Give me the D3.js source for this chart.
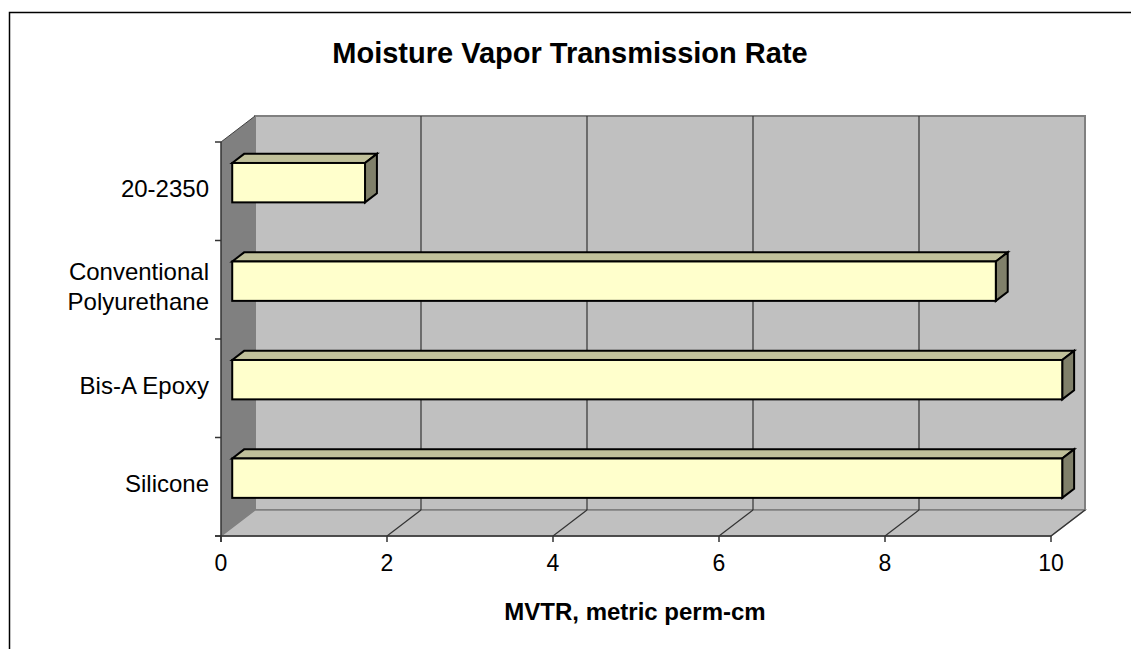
<!DOCTYPE html>
<html>
<head>
<meta charset="utf-8">
<script src="https://cdn.jsdelivr.net/npm/d3@7"></script>
<style>
	html, body { margin: 0; padding: 0; background: #fff; }
	svg { display: block; font-family: "Liberation Sans", Arial, sans-serif; }
</style>
</head>
<body>
<svg class="chart" width="1131" height="649"></svg>
<script>
// categories listed top to bottom as they appear on the chart
const categories = ['20-2350', 'Conventional Polyurethane', 'Bis-A Epoxy', 'Silicone'];
const categoryLines = [['20-2350'], ['Conventional', 'Polyurethane'], ['Bis-A Epoxy'], ['Silicone']];
const values = [1.6, 9.2, 10, 10];
const xTicks = [0, 2, 4, 6, 8, 10];
const chartTitle = 'Moisture Vapor Transmission Rate';
const xTitle = 'MVTR, metric perm-cm';

function startApp() {
	const svg = d3.select('.chart');
	// oblique depth of the 3D box
	const depth = {dx: 34, dy: 26};
	const barFront = 0.33;
	const barBack = 0.68;

	const xScale = d3.scaleLinear().domain([0, 10]).range([221, 1051]);
	const yScale = d3.scaleBand().domain(categories).range([142, 536]);
	const barHeight = yScale.bandwidth() * 0.4;
	const [x0, x1] = xScale.range();
	const [y0, y1] = yScale.range();

	// outer frame
	svg.append('path')
		.attr('d', `M9.5,649 L9.5,12.5 L1131,12.5`)
		.attr('fill', 'none')
		.attr('stroke', '#000')
		.attr('stroke-width', 1.5);

	svg.append('text')
		.attr('x', 570)
		.attr('y', 63)
		.attr('text-anchor', 'middle')
		.style('font-size', '29px')
		.style('font-weight', 'bold')
		.text(chartTitle);

	const line = (pts) => 'M' + pts.map(p => p.join(',')).join('L') + 'Z';

	// back wall
	svg.append('path')
		.attr('d', line([[x0 + depth.dx, y0 - depth.dy], [x1 + depth.dx, y0 - depth.dy], [x1 + depth.dx, y1 - depth.dy], [x0 + depth.dx, y1 - depth.dy]]))
		.attr('fill', '#c0c0c0')
		.attr('stroke', '#808080')
		.attr('stroke-width', 2);

	// floor
	svg.append('path')
		.attr('d', line([[x0, y1], [x0 + depth.dx, y1 - depth.dy], [x1 + depth.dx, y1 - depth.dy], [x1, y1]]))
		.attr('fill', '#c0c0c0')
		.attr('stroke', '#808080')
		.attr('stroke-width', 1.5);

	// left wall
	svg.append('path')
		.attr('d', line([[x0, y0], [x0 + depth.dx, y0 - depth.dy], [x0 + depth.dx, y1 - depth.dy], [x0, y1]]))
		.attr('fill', '#808080')
		.attr('stroke', 'none');
	svg.append('line')
		.attr('x1', x0).attr('y1', y0)
		.attr('x2', x0 + depth.dx).attr('y2', y0 - depth.dy)
		.attr('stroke', '#404040').attr('stroke-width', 1);

	// gridlines on back wall and floor
	const grid = svg.append('g')
		.attr('stroke', '#333')
		.attr('stroke-width', 1.2)
		.attr('fill', 'none');
	grid.selectAll('.vgrid')
		.data(xTicks.filter(t => t > 0 && t < 10))
		.enter()
		.append('line')
		.attr('x1', t => xScale(t) + depth.dx).attr('y1', y0 - depth.dy)
		.attr('x2', t => xScale(t) + depth.dx).attr('y2', y1 - depth.dy);
	grid.selectAll('.fgrid')
		.data(xTicks.filter(t => t > 0))
		.enter()
		.append('line')
		.attr('x1', t => xScale(t)).attr('y1', y1)
		.attr('x2', t => xScale(t) + depth.dx).attr('y2', y1 - depth.dy);

	// axes
	const axisColor = '#333';
	svg.append('line')
		.attr('x1', x0).attr('y1', y0).attr('x2', x0).attr('y2', y1 + 6)
		.attr('stroke', axisColor).attr('stroke-width', 1.5);
	svg.append('line')
		.attr('x1', x0 - 6).attr('y1', y1).attr('x2', x1).attr('y2', y1)
		.attr('stroke', axisColor).attr('stroke-width', 1.5);

	const yTickPositions = categories.map(c => yScale(c)).concat([y1]);
	svg.selectAll('.ytick')
		.data(yTickPositions)
		.enter()
		.append('line')
		.attr('x1', x0 - 6).attr('x2', x0)
		.attr('y1', d => d).attr('y2', d => d)
		.attr('stroke', axisColor).attr('stroke-width', 1.5);

	const xTick = svg.selectAll('.xtick')
		.data(xTicks)
		.enter()
		.append('g')
		.attr('transform', t => `translate(${xScale(t)}, ${y1})`);
	xTick.append('line')
		.attr('y1', 0).attr('y2', 6)
		.attr('stroke', axisColor).attr('stroke-width', 1.5);
	xTick.append('text')
		.attr('y', 35)
		.attr('text-anchor', 'middle')
		.style('font-size', '23px')
		.text(t => t);

	// category labels
	const label = svg.selectAll('.cat')
		.data(categories)
		.enter()
		.append('text')
		.attr('text-anchor', 'end')
		.style('font-size', '24px')
		.attr('x', 209);
	label.each(function(c, i) {
		const lines = categoryLines[i];
		const cy = yScale(c) + yScale.bandwidth() / 2 - 3;
		const lh = 30;
		d3.select(this).selectAll('tspan')
			.data(lines)
			.enter()
			.append('tspan')
			.attr('x', 209)
			.attr('y', (l, j) => cy + (j - (lines.length - 1) / 2) * lh + 8.5)
			.text(l => l);
	});

	// 3D bars
	const fx = depth.dx * barFront;
	const fy = depth.dy * barFront;
	const bx = depth.dx * (barBack - barFront);
	const by = depth.dy * (barBack - barFront);
	const bar = svg.selectAll('.bar')
		.data(categories.map((c, i) => ({c, v: values[i]})))
		.enter()
		.append('g')
		.attr('stroke', '#000')
		.attr('stroke-width', 2)
		.attr('stroke-linejoin', 'miter');
	bar.each(function(d) {
		const g = d3.select(this);
		const left = x0 + fx;
		const right = xScale(d.v) + fx;
		const top = yScale(d.c) + (yScale.bandwidth() - barHeight) / 2 - fy;
		const bottom = top + barHeight;
		g.append('path')
			.attr('d', line([[left, top], [left + bx, top - by], [right + bx, top - by], [right, top]]))
			.attr('fill', '#c0c09a');
		g.append('path')
			.attr('d', line([[right, top], [right + bx, top - by], [right + bx, bottom - by], [right, bottom]]))
			.attr('fill', '#80806a');
		g.append('rect')
			.attr('x', left).attr('y', top)
			.attr('width', right - left).attr('height', barHeight)
			.attr('fill', '#ffffcc');
	});

	svg.append('text')
		.attr('x', 635)
		.attr('y', 620)
		.attr('text-anchor', 'middle')
		.style('font-size', '24px')
		.style('font-weight', 'bold')
		.text(xTitle);
}

window.onload = startApp;
</script>
</body>
</html>
